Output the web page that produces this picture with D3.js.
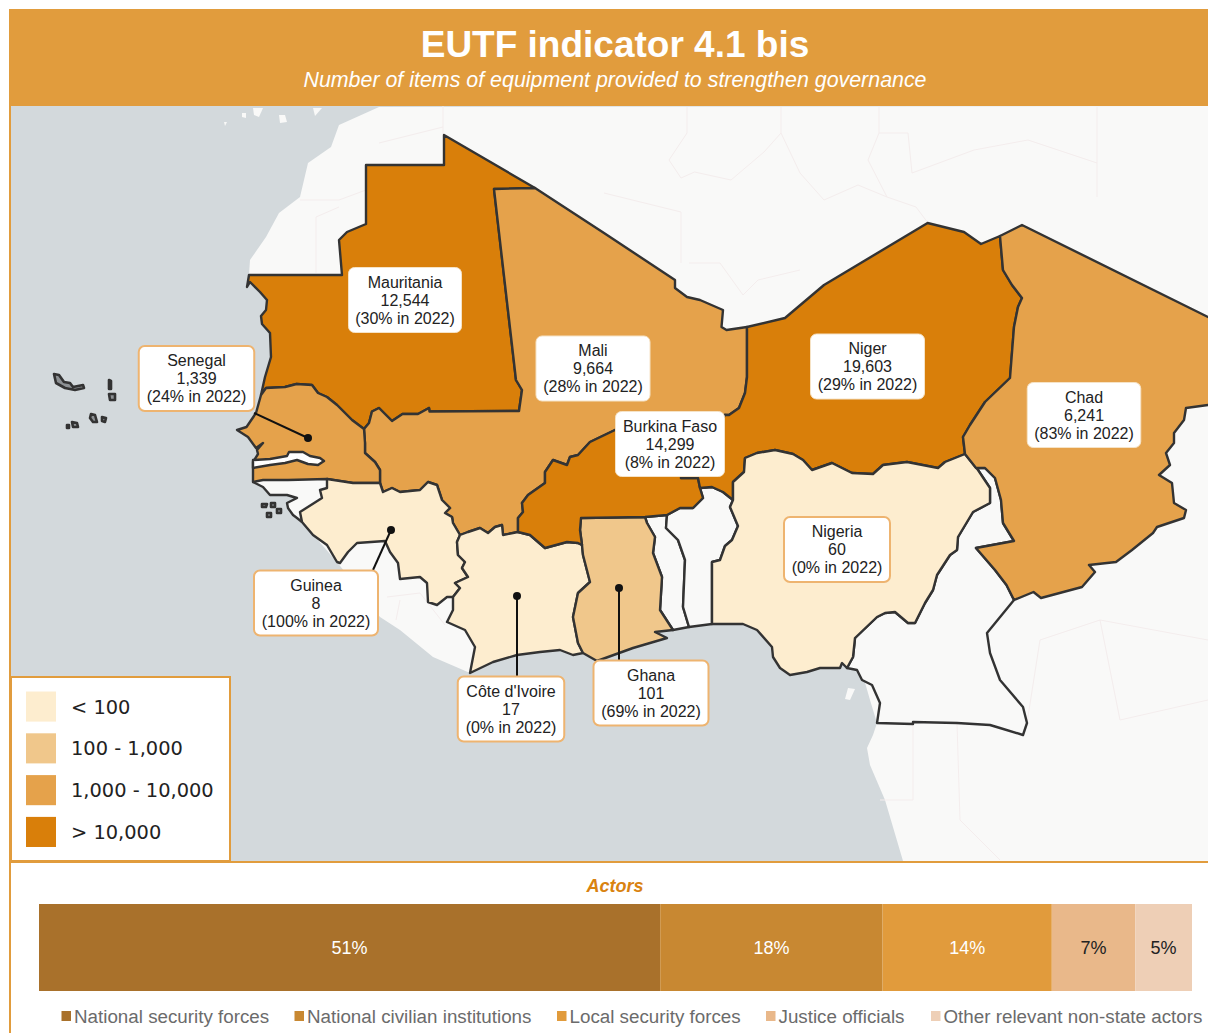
<!DOCTYPE html>
<html>
<head>
<meta charset="utf-8">
<script src="https://cdn.jsdelivr.net/npm/d3@7"></script>
<style>
  html, body { margin: 0; padding: 0; background: #fff; }
  svg { display: block; }
  text { font-family: "Liberation Sans", Arial, sans-serif; }
</style>
</head>
<body>
<div id="chart"></div>
<script>
// indicator values per country
const countries = ['Mauritania', 'Senegal', 'Mali', 'Burkina Faso', 'Niger', 'Chad', 'Nigeria', 'Guinea', "Côte d'Ivoire", 'Ghana']
const itemTotals = [12544, 1339, 9664, 14299, 19603, 6241, 60, 8, 17, 101]
const sharesIn2022 = [30, 24, 28, 8, 29, 83, 0, 100, 0, 69]

const classBreaks = [100, 1000, 10000]
const classColors = ['#fdedcf', '#f0c78b', '#e5a24b', '#d97f0a']
const classLabels = ['< 100', '100 - 1,000', '1,000 - 10,000', '> 10,000']

// bar lengths say a bit more than the rounded labels, they do not add up to 100
const actorNames = ['National security forces', 'National civilian institutions', 'Local security forces', 'Justice officials', 'Other relevant non-state actors']
const actorShares = [51.4, 18.4, 14, 6.9, 4.7]
const actorColors = ['#a9712b', '#c88832', '#e19b3c', '#e9b88a', '#eecfb6']

// Map outlines, in map units (1 unit = 10px).
// Shared borders are kept once and reused by both neighbours.
const mauNorth = [[24.9,27.5],[34.2,27.5],[33.9,24],[34.7,23.2],[36.6,22.4],[36.6,16.5],[44.4,16.5],[44.4,13.5],[53.5,18.8]]
const mauMali = [[53.5,18.8],[49.4,18.9],[51.6,38],[52.2,39],[51.9,41.1],[42.95,41.15],[42.9,40.8],[41.8,41.4],[40.25,41.4],[39.2,42.1],[37.9,40.8],[37.2,41.15],[36.9,42.3],[36.4,42.9]]
const mauSen = [[36.4,42.9],[35.2,42],[33.7,40.5],[32.7,39.7],[31.8,39.3],[31.2,38.5],[29.66,38.4],[28.5,38.7],[26.6,38.8],[26.1,39.5]]
const mauCoast = [[26.1,39.5],[26.5,37.7],[27.1,35.7],[27,33.3],[26.2,32.4],[26.1,31.6],[26.6,31],[26.7,30],[26,29.2],[25,28.2],[24.7,28.7],[24.9,27.5]]
const maliSen = [[36.4,42.9],[36.5,44.3],[36.5,45.3],[37.5,46.2],[38,47],[38,48.3]]
const senGui = [[38,48.3],[35.3,48.3],[32.7,47.9]]
const senCoast = [[26.1,39.5],[25.6,41.3],[24.65,42.7],[23.7,43],[24.8,43.7],[25.6,44.8],[26.3,44.3],[25.7,45],[25.8,45.4],[25.3,46.2],[25.3,47],[25.3,48.2]]
const bissauNorth = [[25.3,48.2],[26.3,48],[28.8,48],[32.7,47.9]]
const bissauEast = [[32.7,47.9],[32.7,48.8],[32,49],[32.2,49.8],[30,51.2],[30.2,52.2]]
const bissauCoast = [[30.2,52.2],[29.7,51.8],[29.3,51.5],[28.8,50.8],[28.7,50.3],[29.7,49.8],[28.7,49.5],[27,49.5],[26.3,48.7],[25.3,48.2]]
const maliGui = [[38,48.3],[38.3,49.2],[39.2,48.8],[40,49.2],[42,49],[42.8,48.2],[43.7,48.5],[44.2,50],[45,50.8],[44.5,51.3],[45.2,51.7],[45.3,52.3],[46,53.5]]
const maliCiv = [[46,53.5],[46.8,53.2],[48,52.8],[48.8,53.3],[49.5,52.7],[50.2,52.5],[50.3,53.5],[51.8,53.2]]
const maliBfa = [[51.8,53.2],[51.8,51.8],[52.3,51.2],[52.2,50.3],[52.8,49.5],[54.5,48.3],[54.5,47.2],[55.3,46],[56.7,46.5],[57,45.7],[57.8,45.5],[59,44.2],[61.5,43],[68,42],[72.5,41.5]]
const maliNer = [[72.5,41.5],[72.9,41.5],[73.9,40.8],[74.5,39.3],[74.7,37.7],[74.7,36.7],[74.7,32.7]]
const maliNorth = [[53.5,18.8],[60.4,23.3],[67.5,28],[67.5,28.8],[68.7,29.7],[70,30],[72.3,31],[72.15,32.7],[72.65,33],[74.7,32.7]]
const guiCiv = [[46,53.5],[45.7,54.2],[45.8,55.5],[46.5,56.2],[46.2,56.8],[46.8,57.7],[45.5,58.3],[46,58.8],[45.3,59.7]]
const guiSouth = [[45.3,59.7],[44.7,59.7],[43.7,60.5],[42.8,60.2],[42.7,58.3],[42,57.7],[40,57.9],[39.8,56.3],[39,55.2],[38.5,54.1],[35.7,54.3],[34.8,55.2],[34,56.3],[33.7,56.2],[32.7,54.5],[31.3,53.5],[30.2,52.2]]
const civBfa = [[51.8,53.2],[53,53.5],[54.5,54.8],[56.7,54.2],[57.8,54.3],[58.2,54.5]]
const civGha = [[58.2,54.5],[58.3,55.5],[59,58.2],[57.8,59.3],[57.3,61.7],[57.8,64.3],[58.3,65.3]]
const civCoast = [[58.3,65.3],[57.3,65.5],[56,65],[54,65.2],[51.7,65.5],[49.3,66.2],[47,67.3]]
const civWest = [[47,67.3],[47.5,64.7],[46.5,63],[44.7,62.2],[45.3,61],[45.3,59.7]]
const ghaEast = [[64.5,51.7],[64.7,52.3],[65.5,53.7],[65.3,55.3],[66.2,57.7],[66,61],[67.3,63]]
const ghaCoast = [[67.3,63],[65.5,63.2],[66.7,63.8],[63.3,64.8],[59.7,66.1],[58.3,65.3]]
const ghaBfa = [[58.1,51.8],[64.5,51.7]]
const ghaWest = [[58.2,54.5],[58,53],[58.1,51.8]]
const bfaNer = [[70,48.8],[69.8,47.8],[68.1,47.8],[70,45],[72.5,41.5]]
const bfaEast = [[64.5,51.7],[66.7,51.5],[68,50.8],[69.3,50.8],[70.3,49.8],[70,48.8]]
const togoBenin = [[66.7,51.5],[66.6,52.8],[67.8,54],[68.5,56],[68.3,60.7],[68.9,62.7]]
const beninNorth = [[70,48.8],[71.2,48.7],[72.3,49.2],[73.3,50]]
const beninNga = [[73.3,50],[73,50.7],[73.8,52.6],[73.2,54],[72.5,54.6],[72,56],[71.2,56.2],[71.2,62.4]]
const nerNga = [[73.3,50],[73.3,48.2],[74.4,47.2],[74.5,45.8],[75.7,45.3],[77.5,45],[79.3,45.4],[80.3,46],[81.2,47],[83.2,46.3],[85.2,47.3],[87.3,47.4],[88.3,46.5],[90.7,46.2],[93.8,46.8],[94.5,46.2],[96.5,45.4]]
const ngaCmr = [[97.8,47],[99,48.8],[99,50.3],[97.3,51.2],[95.8,53.7],[95.7,55],[95,55.5],[93.7,57.5],[93.3,59],[92.5,60.3],[91.5,62.3],[90.8,62.3],[89.5,61.2],[88.5,61.3],[87.7,61.7],[85.5,63.8],[85.3,65.7],[84.7,66.8]]
const ngaCoast = [[84.7,66.8],[84.2,66.3],[84,66.8],[82,66.8],[80.7,67.2],[79,67.5],[78,66.8],[77.3,65.7],[77.2,64.7],[75.7,63],[74.3,62.4],[71.2,62.4]]
const cmrSouth = [[84.7,66.8],[85.7,67],[86.2,68],[87.2,68.5],[88,70.3],[87.7,72.3],[91.3,72.4],[91.3,72.2],[95.7,72.3],[99,72.5],[100,72.8],[102.3,73.5],[102.7,72.3],[102.3,70.7],[100,68],[99,65.3],[98.7,63.3],[101.4,60]]
const chadNer = [[100,23.6],[100.3,27],[101.2,28.5],[102.2,29.8],[101.8,30.7],[101.4,32.7],[101,37.8],[98.5,40.2],[97,42.5],[96.3,43.7],[96.5,45.4]]
const chadCmr = [[96.5,45.4],[97.6,46.8],[98.5,46.8],[99.5,47.8],[100.1,50],[100.3,52.3],[101.4,54.1],[97.6,54.8],[99.5,57],[100.65,58.5],[101.4,60]]
const chadEast = [[101.4,60],[103.35,59.2],[104.1,59.8],[108.2,58.7],[109.5,57.2],[108.9,56.5],[111.6,56.2],[113.2,55],[115.3,53.3],[115.7,52.7],[118.4,51.8],[118.6,51],[117.4,50.3],[117.2,48.3],[115.9,47.5],[117,46.5],[116.6,45.3],[117.4,44.3],[117.4,43.3],[118.4,42],[118.6,40.8],[120.8,40.5],[122.5,40.5],[122.5,32.6],[120.8,31.7],[102.2,22.5],[100,23.6]]
// runs inside the coloured countries where those hold the coast themselves
const landOutline = [[37.9,10.7],[33.9,12.5],[33.1,14.7],[30.8,16.3],[30,19.7],[27.9,21.3],[26.6,23.7],[25,26],[24.9,27.5],[29,30],[29,44],[30,50],[30.2,52.2],[33.7,56.2],[38,61.7],[40,63],[43.3,65.7],[47,67.3],[50,63],[60,63],[70,61],[84.7,62],[87,70],[87.7,72.3],[87.3,73.5],[86.7,74.8],[87,76.5],[88.5,80],[90.3,86.1],[120.8,86.1],[120.8,10.6]]
const gambia = [[25.3,46],[27,45.9],[28.7,45.6],[28.9,45.2],[30.3,45.2],[31,45.6],[32,45.8],[32.4,46.1],[31.8,46.5],[30.8,46.4],[29.7,46],[28.5,46.3],[27,46.5],[25.3,46.8]]
const capeVerde = [[[5.4,37.4],[5.9,37.5],[6.4,38.2],[7,38.3],[7.3,38.7],[8.3,38.5],[8.4,38.8],[7.5,39],[6.5,38.8],[5.6,38.3]],[[10.9,38],[11.1,38.1],[11.1,38.9],[10.9,38.9]],[[10.9,39.4],[11.5,39.4],[11.5,40],[11,40]],[[9.1,41.4],[9.5,41.5],[9.7,42.2],[9.3,42.2],[9,41.8]],[[10.2,41.7],[10.6,41.8],[10.5,42.2],[10.2,42.1]],[[7.2,42.2],[7.7,42.3],[7.8,42.7],[7.3,42.7]],[[6.7,42.5],[6.9,42.5],[6.9,42.8],[6.7,42.8]]]
const bissauIslands = [[[26.2,50.4],[26.7,50.4],[26.6,50.7],[26.2,50.7]],[[27.1,50.3],[27.5,50.3],[27.5,50.7],[27.1,50.7]],[[27.7,50.9],[28.1,50.9],[28.1,51.3],[27.7,51.3]],[[26.7,51.3],[27.1,51.3],[27.1,51.7],[26.7,51.7]]]
const paleIslands = [[[24.2,11.3],[24.6,11.3],[24.6,11.8],[24.2,11.7]],[[25.3,10.8],[26.3,10.8],[25.9,11.7],[25.4,11.5]],[[27.9,11.5],[28.5,11.5],[28.7,12.2],[28,12.3]],[[22.4,12.2],[22.7,12.2],[22.5,12.6]],[[31.3,10.8],[32.2,10.8],[31.5,11.6]],[[84.8,68.8],[85.5,68.9],[85,70],[84.5,69.9]]]
const faintBorders = [
  [[44.3,10.6],[44.3,13.5]],
  [[37.9,14.3],[44.3,12.7]],
  [[30,20],[33.9,20],[36.6,19]],
  [[31.6,27.3],[31.6,21.7],[33.9,20.7]],
  [[68.7,10.7],[68.7,13.3],[66.9,16],[68.1,17.8],[69.45,17.2],[73.1,18],[76.4,15.2],[78.1,13.3],[78.1,10.7]],
  [[78.1,13.3],[80,17.3],[82.4,20],[85.8,18.5],[88.7,19.7]],
  [[87.9,10.7],[87.9,13.3],[86.8,16],[88.7,19.7],[91.6,20.7],[92.8,22.3]],
  [[87.9,13.3],[90.8,13.3],[91.2,17.3],[97.4,15],[102.8,14],[109.7,16.3]],
  [[60.4,19.3],[68.1,21.2],[68.1,26.3]],
  [[68.9,26.3],[72,26.3],[74.3,29.5],[75.8,28],[80,27]],
  [[109.7,10.7],[109.7,19.7]],
  [[38.7,59.7],[42,59.3],[44.5,62.5]],
  [[40,60],[39.6,62]],
  [[91.3,72.4],[91.3,80],[88,80]],
  [[102.7,72.3],[104,64],[110,62],[120.8,64]],
  [[92,64],[96,66],[98,62]],
  [[95.7,72.3],[96,82],[100,86]],
  [[110,62],[112,72],[120.8,70]]
]

// where each callout sits and what it points at, in map units
const calloutCentres = [40.5, 19.65, 59.3, 67, 86.75, 108.4, 83.7, 31.6, 51.1, 65.1]
const calloutTops = [26.75, 34.6, 33.6, 41.15, 33.4, 38.25, 51.7, 57.05, 67.65, 66.05]
const calloutWidths = [11.3, 11.55, 11.4, 10.9, 11.4, 11.35, 10.6, 12.4, 10.65, 11.5]
const outlinedCallouts = ['Senegal', 'Nigeria', 'Guinea', "Côte d'Ivoire", 'Ghana']
const leaderLines = {
  Senegal: [[25.4, 41.3], [30.8, 43.8]],
  Guinea: [[37.3, 57], [39.1, 53]],
  "Côte d'Ivoire": [[51.7, 67.7], [51.7, 59.6]],
  Ghana: [[61.9, 66.1], [61.9, 58.8]]
}

const width = 1208
const height = 1033
const unit = 10
const outlineColor = '#333333'
const panelOrange = '#e19c3d'
const landColor = '#f9f9f8'

const rev = (pts) => pts.slice().reverse()

const guineaBissau = [...bissauNorth, ...bissauEast, ...bissauCoast]
const shapes = [
  { name: 'Cameroon', fill: landColor, pts: [...ngaCmr, ...cmrSouth, ...rev(chadCmr), [97.8, 47]] },
  { name: 'Togo', fill: landColor, pts: [[64.5, 51.7], [66.7, 51.5], ...togoBenin, [67.3, 63], ...rev(ghaEast)] },
  { name: 'Benin', fill: landColor, pts: [...beninNorth, ...beninNga, ...rev(togoBenin), [68, 50.8], [69.3, 50.8], [70.3, 49.8]] },
  { name: 'Mauritania', pts: [...mauNorth, ...mauMali, ...mauSen, ...mauCoast] },
  { name: 'Mali', pts: [...mauMali, ...maliSen, ...maliGui, ...maliCiv, ...maliBfa, ...maliNer, ...rev(maliNorth)] },
  { name: 'Senegal', pts: [...mauSen, ...senCoast, ...bissauNorth, ...rev(senGui), ...rev(maliSen)] },
  { name: 'Guinea', pts: [...rev(senGui), ...maliGui, ...guiCiv, ...guiSouth, ...rev(bissauEast)] },
  { name: "Côte d'Ivoire", pts: [...maliCiv, ...civBfa, ...civGha, ...civCoast, ...civWest, ...rev(guiCiv)] },
  { name: 'Ghana', pts: [...ghaBfa, ...ghaEast, ...ghaCoast, ...rev(civGha), ...ghaWest] },
  { name: 'Burkina Faso', pts: [...maliBfa, ...rev(bfaNer), ...rev(bfaEast), ...rev(ghaBfa), ...rev(ghaWest), ...rev(civBfa)] },
  { name: 'Niger', pts: [[74.7, 32.7], [78.5, 31.8], [82.4, 28.5], [92.76, 22.3], [96.4, 23.2], [98.1, 24.4], ...chadNer, ...rev(nerNga), [72.3, 49.2], [71.2, 48.7], ...bfaNer, ...maliNer] },
  { name: 'Nigeria', pts: [...nerNga, ...ngaCmr, ...ngaCoast, ...rev(beninNga)] },
  { name: 'Chad', pts: [...chadNer, ...chadCmr, ...chadEast] }
]

const polygon = (pts) => ({ type: 'Feature', geometry: { type: 'Polygon', coordinates: [[...pts, pts[0]]] } })
const lineString = (pts) => ({ type: 'Feature', geometry: { type: 'LineString', coordinates: pts } })

// identity projection, the outlines are already flat
const mapPath = d3.geoPath(d3.geoIdentity().scale(unit))
const mapX = d3.scaleLinear().domain([0, width / unit]).range([0, width])
const mapY = d3.scaleLinear().domain([0, height / unit]).range([0, height])

const classColor = d3.scaleThreshold().domain(classBreaks).range(classColors)
const totalFor = new Map(countries.map((c, i) => [c, itemTotals[i]]))

document.addEventListener('DOMContentLoaded', start)

function start () {
  const svg = d3.select('#chart').append('svg')
    .attr('width', width)
    .attr('height', height)
    .attr('viewBox', `0 0 ${width} ${height}`)
  drawHeader(svg)
  drawMap(svg)
  drawCallouts(svg)
  drawClassLegend(svg)
  drawActors(svg)
}

function drawHeader (svg) {
  svg.append('rect').attr('x', 9).attr('y', 9).attr('width', width - 9).attr('height', 97).attr('fill', panelOrange)
  svg.append('rect').attr('x', 9).attr('y', 106).attr('width', 2).attr('height', height - 106).attr('fill', panelOrange)
  svg.append('text')
    .attr('x', 615).attr('y', 57)
    .attr('text-anchor', 'middle')
    .attr('fill', '#fff')
    .attr('font-size', 37)
    .attr('font-weight', 'bold')
    .text('EUTF indicator 4.1 bis')
  svg.append('text')
    .attr('x', 615).attr('y', 87)
    .attr('text-anchor', 'middle')
    .attr('fill', '#fff')
    .attr('font-size', 21.4)
    .attr('font-style', 'italic')
    .text('Number of items of equipment provided to strengthen governance')
}

function drawMap (svg) {
  svg.append('clipPath').attr('id', 'mapClip')
    .append('rect').attr('x', 11).attr('y', 106).attr('width', width - 11).attr('height', 755)

  const g = svg.append('g').attr('clip-path', 'url(#mapClip)')
  g.append('rect').attr('x', 11).attr('y', 106).attr('width', width - 11).attr('height', 755).attr('fill', '#d3d9dc')

  g.append('path').datum(polygon(landOutline)).attr('d', mapPath).attr('fill', landColor)

  g.selectAll('.pale-island')
    .data(paleIslands.map(polygon))
    .enter().append('path')
    .attr('class', 'pale-island')
    .attr('d', mapPath)
    .attr('fill', landColor)

  g.selectAll('.faint')
    .data(faintBorders.map(lineString))
    .enter().append('path')
    .attr('class', 'faint')
    .attr('d', mapPath)
    .attr('fill', 'none')
    .attr('stroke', '#f4eded')
    .attr('stroke-width', 1)

  g.append('path').datum(polygon(guineaBissau)).attr('d', mapPath).attr('fill', landColor)

  g.selectAll('.country')
    .data(shapes)
    .enter().append('path')
    .attr('class', 'country')
    .attr('d', (d) => mapPath(polygon(d.pts)))
    .attr('fill', (d) => d.fill || classColor(totalFor.get(d.name)))
    .attr('stroke', outlineColor)
    .attr('stroke-width', 2.4)
    .attr('stroke-linejoin', 'round')

  g.append('path').datum(polygon(gambia)).attr('d', mapPath)
    .attr('fill', '#fff').attr('stroke', outlineColor).attr('stroke-width', 2.4).attr('stroke-linejoin', 'round')

  g.append('path').datum(lineString(bissauCoast)).attr('d', mapPath)
    .attr('fill', 'none').attr('stroke', outlineColor).attr('stroke-width', 2.4).attr('stroke-linejoin', 'round')

  g.selectAll('.dark-island')
    .data([...capeVerde, ...bissauIslands].map(polygon))
    .enter().append('path')
    .attr('class', 'dark-island')
    .attr('d', mapPath)
    .attr('fill', '#8d9194')
    .attr('stroke', outlineColor)
    .attr('stroke-width', 2.6)
    .attr('stroke-linejoin', 'round')
}

function drawCallouts (svg) {
  const line = d3.line().x((d) => mapX(d[0])).y((d) => mapY(d[1]))
  const leaders = Object.entries(leaderLines)

  svg.selectAll('.leader')
    .data(leaders)
    .enter().append('path')
    .attr('class', 'leader')
    .attr('d', (d) => line(d[1]))
    .attr('fill', 'none')
    .attr('stroke', '#111')
    .attr('stroke-width', 2)

  svg.selectAll('.leader-dot')
    .data(leaders)
    .enter().append('circle')
    .attr('class', 'leader-dot')
    .attr('cx', (d) => mapX(d[1][1][0]))
    .attr('cy', (d) => mapY(d[1][1][1]))
    .attr('r', 4)
    .attr('fill', '#111')

  const boxes = svg.selectAll('.callout')
    .data(countries)
    .enter().append('g')
    .attr('class', 'callout')
    .attr('transform', (d, i) => `translate(${mapX(calloutCentres[i])},${mapY(calloutTops[i])})`)

  boxes.append('rect')
    .attr('x', (d, i) => -mapX(calloutWidths[i]) / 2)
    .attr('width', (d, i) => mapX(calloutWidths[i]))
    .attr('height', 65)
    .attr('rx', 6)
    .attr('fill', '#fff')
    .attr('stroke', (d) => outlinedCallouts.includes(d) ? '#eeb470' : '#f6e3c6')
    .attr('stroke-width', (d) => outlinedCallouts.includes(d) ? 2 : 1)

  const fmt = d3.format(',')
  const lines = (d, i) => [d, fmt(itemTotals[i]), `(${sharesIn2022[i]}% in 2022)`]
  boxes.each(function (d, i) {
    d3.select(this).selectAll('text')
      .data(lines(d, i))
      .enter().append('text')
      .attr('text-anchor', 'middle')
      .attr('y', (t, j) => 20 + j * 18)
      .attr('font-size', 16)
      .attr('fill', '#222')
      .text((t) => t)
  })
}

function drawClassLegend (svg) {
  svg.append('rect')
    .attr('x', 11).attr('y', 677).attr('width', 219).attr('height', 184)
    .attr('fill', '#fff')
    .attr('stroke', panelOrange)
    .attr('stroke-width', 2)

  const y = d3.scaleBand().domain(classLabels).range([686.5, 852]).paddingInner(0.28).paddingOuter(0.12)

  const rows = svg.selectAll('.class-row')
    .data(classLabels)
    .enter().append('g')
    .attr('class', 'class-row')
    .attr('transform', (d) => `translate(26,${y(d)})`)

  rows.append('rect')
    .attr('width', 30)
    .attr('height', y.bandwidth())
    .attr('fill', (d, i) => classColors[i])

  rows.append('text')
    .attr('x', 45)
    .attr('y', y.bandwidth() / 2 + 7)
    .attr('font-size', 19.4)
    .attr('fill', '#222')
    .style('font-family', '"DejaVu Sans", sans-serif')
    .text((d) => d)
}

function drawActors (svg) {
  svg.append('rect').attr('x', 9).attr('y', 861).attr('width', width - 9).attr('height', 2).attr('fill', panelOrange)

  svg.append('text')
    .attr('x', 615).attr('y', 892)
    .attr('text-anchor', 'middle')
    .attr('fill', '#d9820f')
    .attr('font-size', 18)
    .attr('font-weight', 'bold')
    .attr('font-style', 'italic')
    .text('Actors')

  const total = d3.sum(actorShares)
  const x = d3.scaleLinear().domain([0, total]).range([39, 1192])
  const starts = d3.cumsum([0, ...actorShares])

  const segs = svg.selectAll('.actor-seg')
    .data(actorShares)
    .enter().append('g')
    .attr('class', 'actor-seg')

  segs.append('rect')
    .attr('x', (d, i) => x(starts[i]))
    .attr('y', 904)
    .attr('width', (d) => x(d) - x(0))
    .attr('height', 87)
    .attr('fill', (d, i) => actorColors[i])

  segs.append('text')
    .attr('x', (d, i) => x(starts[i] + d / 2))
    .attr('y', 954)
    .attr('text-anchor', 'middle')
    .attr('font-size', 18)
    .attr('fill', (d, i) => i < 3 ? '#fff' : '#222')
    .text((d) => `${d3.format('.0f')(d)}%`)

  // swatch positions follow the text run of the original legend
  const keyX = d3.scaleOrdinal().domain(actorNames).range([61.5, 294.5, 557, 766, 931])

  const keys = svg.selectAll('.actor-key')
    .data(actorNames)
    .enter().append('g')
    .attr('class', 'actor-key')
    .attr('transform', (d) => `translate(${keyX(d)},1011)`)

  keys.append('rect')
    .attr('width', 9.5)
    .attr('height', 10)
    .attr('fill', (d, i) => actorColors[i])

  keys.append('text')
    .attr('x', 12.5)
    .attr('y', 11.5)
    .attr('font-size', 18.8)
    .attr('fill', '#6b6b6b')
    .text((d) => d)
}
</script>
</body>
</html>
